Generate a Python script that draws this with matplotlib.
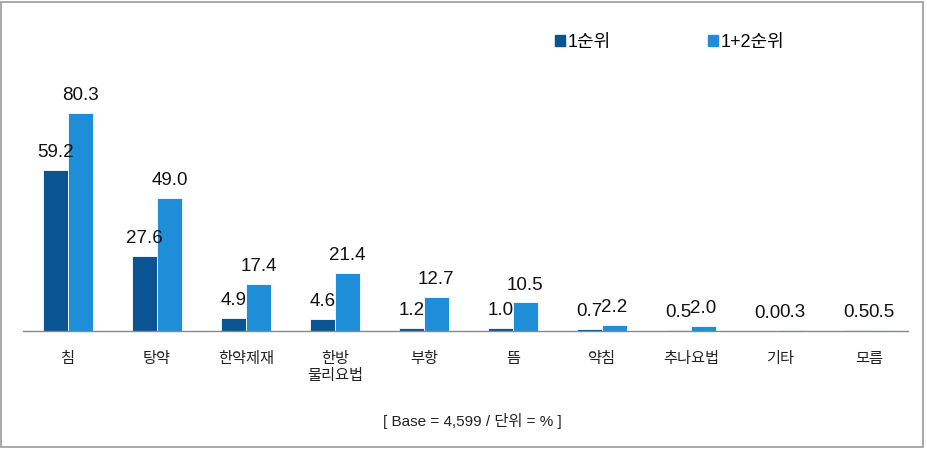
import numpy as np
import matplotlib.pyplot as plt
from matplotlib.patches import Rectangle, Patch

plt.rcParams['font.family'] = ['Liberation Sans', 'Noto Sans CJK KR', 'DejaVu Sans']

categories = ['침', '탕약', '한약제재', '한방\n물리요법', '부항', '뜸', '약침', '추나요법', '기타', '모름']
rank1      = [59.2, 27.6, 4.9, 4.6, 1.2, 1.0, 0.7, 0.5, 0.0, 0.5]
rank12     = [80.3, 49.0, 17.4, 21.4, 12.7, 10.5, 2.2, 2.0, 0.3, 0.5]
series     = ['1순위', '1+2순위']
footer     = '[ Base = 4,599 / 단위 = % ]'

dark  = '#0A5494'
light = '#1E8ED8'

fig = plt.figure(figsize=(9.28, 4.49), dpi=100)
ax = fig.add_axes([0.0248, 0.2628, 0.9536, 0.6927])

x = np.arange(len(categories))
w = 0.28
b1 = ax.bar(x - w / 2, rank1, w, color=dark, edgecolor='white', linewidth=0.6)
b2 = ax.bar(x + w / 2, rank12, w, color=light, edgecolor='white', linewidth=0.6)

for bars, vals in ((b1, rank1), (b2, rank12)):
    for r, v in zip(bars, vals):
        ax.annotate(f'{v:.1f}', (r.get_x() + r.get_width() / 2, v),
                    xytext=(0, 12.5), textcoords='offset points',
                    ha='center', va='center', fontsize=13.5, color='#111111')

ax.set_xlim(-0.506, 9.44)
ax.set_ylim(0, 114.5)
ax.set_xticks(x)
ax.set_xticklabels(categories, fontsize=11, color='#222222', linespacing=1.25, va='top')
ax.tick_params(axis='x', length=0, pad=15)
ax.set_yticks([])
for s in ['top', 'right', 'left']:
    ax.spines[s].set_visible(False)
ax.spines['bottom'].set_color('#888888')
ax.spines['bottom'].set_linewidth(1.0)

handles = [Patch(color=dark), Patch(color=light)]
fig.legend(handles, series, ncol=2, loc='center', bbox_to_anchor=(0.7215, 0.906),
           frameon=False, fontsize=13, handlelength=0.55, handleheight=0.55,
           handletextpad=0.15, columnspacing=5.4)

fig.text(0.5085, 0.063, footer, ha='center', va='center', fontsize=11, color='#222222')

fig.add_artist(Rectangle((0.0015, 0.004), 0.9935, 0.991, transform=fig.transFigure,
                         fill=False, edgecolor='#999999', linewidth=1.2))

fig.savefig('out.png', dpi=100)
